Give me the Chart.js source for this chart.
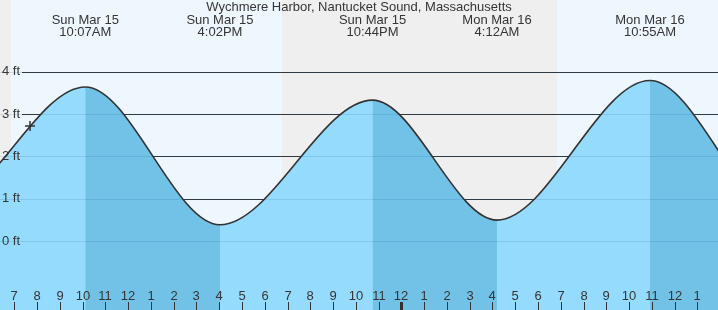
<!DOCTYPE html>
<html>
<head>
<meta charset="utf-8">
<script src="https://cdn.jsdelivr.net/npm/chart.js@4.4.1/dist/chart.umd.min.js"></script>
<style>
  html, body { margin: 0; padding: 0; background: #fff; }
  canvas { display: block; }
</style>
</head>
<body>
<canvas id="tide" width="718" height="310"></canvas>
<script>
// hours counted from Sun Mar 15 00:00
const tideTimes = [-2.3, 3.9, 10.117, 16.033, 22.733, 28.2, 34.917, 40.85, 47.1];
const tideHeights = [3.5, 0.89, 3.64, 0.39, 3.33, 0.50, 3.79, 0.55, 3.5];

// high / low labels across the top
const eventTimes = [10.117, 16.033, 22.733, 28.2, 34.917];
const eventDays = ['Sun Mar 15', 'Sun Mar 15', 'Sun Mar 15', 'Mon Mar 16', 'Mon Mar 16'];
const eventClock = ['10:07AM', '4:02PM', '10:44PM', '4:12AM', '10:55AM'];

// night (grey) spans: before sunrise, sunset -> sunrise
const nightStarts = [0, 18.757];
const nightEnds = [6.855, 30.83];

const hourTicks = [7, 8, 9, 10, 11, 12, 13, 14, 15, 16, 17, 18, 19, 20, 21, 22, 23, 24,
                   25, 26, 27, 28, 29, 30, 31, 32, 33, 34, 35, 36, 37];
const hourLabels = ['7', '8', '9', '10', '11', '12', '1', '2', '3', '4', '5', '6', '7', '8', '9', '10', '11', '12',
                    '1', '2', '3', '4', '5', '6', '7', '8', '9', '10', '11', '12', '1'];
const midnightHour = 24;

const depthTicks = [0, 1, 2, 3, 4];
const depthLabels = ['0 ft', '1 ft', '2 ft', '3 ft', '4 ft'];

const nowTime = [7.69];
const nowHeight = [2.72];

const TEXT = '#353535';
const FONT = '13px "Liberation Sans", Arial, sans-serif';
const LIGHT = '#95dbfd';
const DARK = '#72c1e6';

const tidePlugin = {
    id: 'tideDecor',
    beforeDraw(chart) {
        const { ctx, chartArea: a, scales: { x, y } } = chart;
        ctx.save();
        ctx.fillStyle = '#eef7fe';
        ctx.fillRect(a.left, a.top, a.right - a.left, a.bottom - a.top);
        ctx.fillStyle = '#efefef';
        nightStarts.forEach((s, i) => {
            const x0 = Math.round(Math.max(a.left, x.getPixelForValue(s)));
            const x1 = Math.round(Math.min(a.right, x.getPixelForValue(nightEnds[i])));
            ctx.fillRect(x0, a.top, x1 - x0, a.bottom - a.top);
        });
        // dark grid lines (visible above the water)
        ctx.strokeStyle = '#333';
        ctx.lineWidth = 1;
        depthTicks.forEach(v => {
            const py = Math.round(y.getPixelForValue(v)) + 0.5;
            ctx.beginPath();
            ctx.moveTo(22, py);
            ctx.lineTo(a.right, py);
            ctx.stroke();
        });
        ctx.restore();
    },
    beforeDatasetDraw(chart, args) {
        if (args.index !== 0) return;
        const { ctx, chartArea: a, scales: { y } } = chart;
        ctx.save();
        ctx.strokeStyle = 'rgba(30,100,150,0.16)';
        ctx.lineWidth = 1;
        depthTicks.forEach(v => {
            const py = Math.round(y.getPixelForValue(v)) + 0.5;
            ctx.beginPath();
            ctx.moveTo(a.left, py);
            ctx.lineTo(a.right, py);
            ctx.stroke();
        });
        ctx.restore();
    },
    afterDraw(chart) {
        const { ctx, chartArea: a, scales: { x, y } } = chart;
        ctx.save();
        ctx.font = FONT;
        ctx.fillStyle = TEXT;
        ctx.textBaseline = 'middle';
        ctx.textAlign = 'center';
        ctx.fillText('Wychmere Harbor, Nantucket Sound, Massachusetts', 359, 7.5);
        eventTimes.forEach((t, i) => {
            const px = x.getPixelForValue(t);
            ctx.fillText(eventDays[i], px, 20);
            ctx.fillText(eventClock[i], px, 32.5);
        });
        // hour labels + ticks
        hourTicks.forEach((h, i) => {
            const px = Math.round(x.getPixelForValue(h));
            ctx.fillStyle = TEXT;
            ctx.fillText(hourLabels[i], px, 296);
            ctx.fillStyle = '#333';
            const w = h === midnightHour ? 3 : 1;
            ctx.fillRect(px - Math.floor(w / 2), 302, w, a.bottom - 302);
        });
        // depth labels
        ctx.textAlign = 'left';
        ctx.fillStyle = TEXT;
        depthTicks.forEach((v, i) => {
            ctx.fillText(depthLabels[i], 2, y.getPixelForValue(v));
        });
        ctx.restore();
    }
};

const tidePoints = tideTimes.map((t, i) => ({ x: t, y: tideHeights[i] }));
const falling = c => tideHeights[c.p1DataIndex] < tideHeights[c.p0DataIndex];

new Chart(document.getElementById('tide'), {
    type: 'line',
    data: {
        datasets: [{
            label: 'tide',
            data: tidePoints,
            borderColor: '#333',
            borderWidth: 1.6,
            backgroundColor: LIGHT,
            fill: 'start',
            pointRadius: 0,
            cubicInterpolationMode: 'monotone',
            order: 2
        }, {
            label: 'falling',
            data: tidePoints,
            borderWidth: 0,
            borderColor: 'rgba(0,0,0,0)',
            backgroundColor: DARK,
            fill: 'start',
            pointRadius: 0,
            cubicInterpolationMode: 'monotone',
            order: 1,
            segment: {
                backgroundColor: c => falling(c) ? DARK : 'rgba(0,0,0,0)'
            }
        }, {
            label: 'now',
            data: nowTime.map((t, i) => ({ x: t, y: nowHeight[i] })),
            showLine: false,
            pointStyle: 'cross',
            pointRadius: 5,
            pointBorderColor: '#333',
            pointBorderWidth: 1.5,
            order: 0
        }]
    },
    options: {
        responsive: false,
        animation: false,
        events: [],
        layout: { padding: 0, autoPadding: false },
        elements: { line: { capBezierPoints: false } },
        plugins: {
            legend: { display: false },
            tooltip: { enabled: false },
            title: { display: false },
            filler: { drawTime: 'beforeDatasetsDraw' }
        },
        scales: {
            x: { type: 'linear', min: 6.372, max: 37.905, display: false },
            y: { type: 'linear', min: -1.62, max: 5.69, display: false }
        }
    },
    plugins: [tidePlugin]
});
</script>
</body>
</html>
